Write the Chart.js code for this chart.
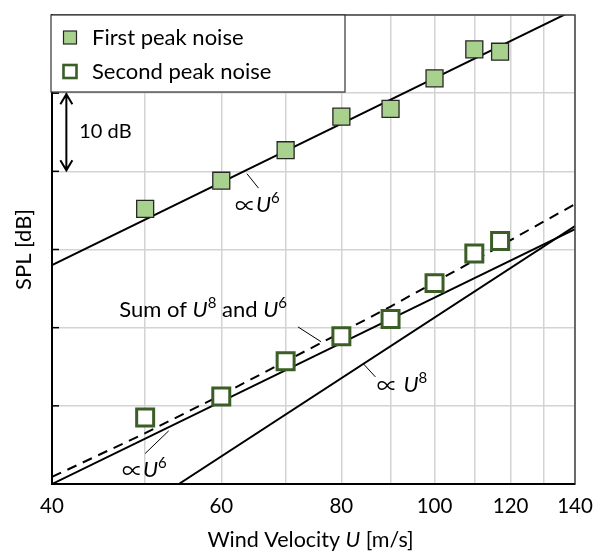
<!DOCTYPE html>
<html>
<head>
<meta charset="utf-8">
<script src="https://cdn.jsdelivr.net/npm/chart.js@4.4.1/dist/chart.umd.min.js"></script>
<style>
  html, body { margin: 0; padding: 0; background: #fff; }
  canvas { display: block; }
</style>
</head>
<body>
<canvas id="chartSPL" width="603" height="559"></canvas>
<script>
// measured peaks, wind velocity [m/s] vs SPL [dB] (10 dB per grid step)
const firstU = [50, 60, 70, 80, 90, 100, 110, 117];
const firstSPL = [35.2, 38.8, 42.7, 47.0, 48.0, 51.9, 55.6, 55.3];
const secondU = [50, 60, 70, 80, 90, 100, 110, 117];
const secondSPL = [8.5, 11.2, 15.7, 18.9, 21.1, 25.7, 29.5, 31.1];

// power-law guide lines
const fitU = [40, 140];
const upperU6 = [28.0, 60.7];
const lowerU6 = [0, 32.6];
const u8U = [54.2, 140];
const u8SPL = [0, 33.0];
const sumU = [40, 50, 60, 70, 80, 90, 100, 110, 120, 130, 140];
const sumSPL = [0.9, 6.5, 11.4, 15.7, 19.4, 22.7, 25.8, 28.6, 31.2, 33.6, 35.8];

// axis
const gridU = [40, 50, 60, 70, 80, 90, 100, 110, 120, 130, 140];
const tickU = [40, 60, 80, 100, 120, 140];

const FONT = "Lato";
const pts = (xs, ys) => xs.map((x, i) => ({ x: x, y: ys[i] }));

// labels placed in data units: [U, dB], parts: [text, style] n=normal i=italic s=superscript p=symbol
const notes = [
  { at: [62.0, 35.7], parts: [["\u221D", "p"], ["U", "i"], ["6", "s"]], lead: [[63.8, 39.7], [65.6, 37.85]] },
  { at: [47.0, 22.3], parts: [["Sum of ", "n"], ["U", "i"], ["8", "s"], [" and ", "n"], ["U", "i"], ["6", "s"]], lead: [[72.1, 20.1], [76.2, 18.2]] },
  { at: [47.3, 1.8], parts: [["\u221D", "p"], ["U", "i"], ["6", "s"]], lead: [[50.0, 3.9], [52.9, 6.8]] },
  { at: [87.1, 12.7], parts: [["\u221D", "p"], [" ", "n"], ["U", "i"], ["8", "s"]], lead: [[84.3, 15.4], [86.8, 13.7]] }
];

function partFont(s, size) {
  if (s === "s") return Math.round(size * 0.68) + "px " + FONT;
  if (s === "p") return (size - 1) + "px 'Noto Sans CJK JP'";
  return (s === "i" ? "italic " : "") + size + "px " + FONT;
}

function drawRich(ctx, parts, x, y, size) {
  ctx.textBaseline = "middle";
  ctx.textAlign = "left";
  let cx = x;
  parts.forEach(([t, s]) => {
    ctx.font = partFont(s, size);
    ctx.fillText(t, cx, s === "s" ? y - size * 0.3 : y);
    cx += ctx.measureText(t).width;
  });
  return cx - x;
}

function richWidth(ctx, parts, size) {
  let w = 0;
  parts.forEach(([t, s]) => {
    ctx.font = partFont(s, size);
    w += ctx.measureText(t).width;
  });
  return w;
}

const overlay = {
  id: "overlay",
  afterDatasetsDraw(chart) {
    const { ctx, chartArea: a, scales: { x, y } } = chart;
    ctx.save();
    // frame top/right
    ctx.strokeStyle = "#444";
    ctx.lineWidth = 1.5;
    ctx.beginPath();
    ctx.moveTo(a.left, a.top);
    ctx.lineTo(a.right, a.top);
    ctx.lineTo(a.right, a.bottom);
    ctx.stroke();
    // inside tick marks on the SPL axis
    ctx.strokeStyle = "#000";
    ctx.lineWidth = 1.5;
    [10, 20, 30, 40, 50].forEach(v => {
      const py = y.getPixelForValue(v);
      ctx.beginPath();
      ctx.moveTo(a.left, py);
      ctx.lineTo(a.left + 7, py);
      ctx.stroke();
    });

    // 10 dB arrow
    const ax = x.getPixelForValue(41.4);
    const y1 = y.getPixelForValue(50), y2 = y.getPixelForValue(40);
    ctx.lineWidth = 2;
    ctx.beginPath();
    ctx.moveTo(ax, y1); ctx.lineTo(ax, y2);
    ctx.moveTo(ax - 6, y1 + 11); ctx.lineTo(ax, y1 + 1); ctx.lineTo(ax + 6, y1 + 11);
    ctx.moveTo(ax - 6, y2 - 11); ctx.lineTo(ax, y2 - 1); ctx.lineTo(ax + 6, y2 - 11);
    ctx.stroke();
    ctx.fillStyle = "#000";
    drawRich(ctx, [["10 dB", "n"]], x.getPixelForValue(42.7), y.getPixelForValue(45.1), 20);

    // curve labels with leader lines
    notes.forEach(n => {
      drawRich(ctx, n.parts, x.getPixelForValue(n.at[0]), y.getPixelForValue(n.at[1]), 22);
      ctx.lineWidth = 1;
      ctx.beginPath();
      ctx.moveTo(x.getPixelForValue(n.lead[0][0]), y.getPixelForValue(n.lead[0][1]));
      ctx.lineTo(x.getPixelForValue(n.lead[1][0]), y.getPixelForValue(n.lead[1][1]));
      ctx.stroke();
    });
    ctx.restore();
  },
  afterDraw(chart) {
    const { ctx, chartArea: a } = chart;
    ctx.save();
    // legend box in the top-left corner
    const bx = a.left - 1, by = a.top, bw = 294, bh = 77;
    ctx.fillStyle = "#fff";
    ctx.fillRect(bx, by, bw, bh);
    ctx.strokeStyle = "#333";
    ctx.lineWidth = 1.2;
    ctx.strokeRect(bx, by, bw, bh);
    chart.data.datasets.slice(0, 2).forEach((ds, i) => {
      const cy = by + 22.5 + i * 34;
      const s = 13;
      ctx.fillStyle = ds.backgroundColor;
      ctx.fillRect(bx + 19 - s / 2, cy - s / 2, s, s);
      ctx.strokeStyle = ds.borderColor;
      ctx.lineWidth = i === 0 ? 1.2 : 2.6;
      ctx.strokeRect(bx + 19 - s / 2, cy - s / 2, s, s);
      ctx.fillStyle = "#000";
      drawRich(ctx, [[ds.label, "n"]], bx + 41, cy, 22);
    });

    // axis titles
    ctx.fillStyle = "#000";
    const xt = [["Wind Velocity ", "n"], ["U", "i"], [" [m/s]", "n"]];
    const w = richWidth(ctx, xt, 21.5);
    drawRich(ctx, xt, (a.left + a.right) / 2 - w / 2 - 3, 540, 21.5);
    ctx.translate(24, (a.top + a.bottom) / 2);
    ctx.rotate(-Math.PI / 2);
    ctx.font = "22px " + FONT;
    ctx.textAlign = "center";
    ctx.textBaseline = "middle";
    ctx.fillText("SPL [dB]", 0, 0);
    ctx.restore();
  }
};

const lineStyle = { type: "line", borderColor: "#000", borderWidth: 2, pointRadius: 0, fill: false, tension: 0, clip: 0 };

new Chart(document.getElementById("chartSPL"), {
  type: "scatter",
  data: {
    datasets: [
      { label: "First peak noise", data: pts(firstU, firstSPL), pointStyle: "rect", pointRadius: 12, pointHoverRadius: 12,
        backgroundColor: "#a9d18e", borderColor: "#262626", borderWidth: 1.3 },
      { label: "Second peak noise", data: pts(secondU, secondSPL), pointStyle: "rect", pointRadius: 12, pointHoverRadius: 12,
        backgroundColor: "#ffffff", borderColor: "#3b5d26", borderWidth: 3 },
      { ...lineStyle, label: "U6 (first)", data: pts(fitU, upperU6) },
      { ...lineStyle, label: "U6 (second)", data: pts(fitU, lowerU6) },
      { ...lineStyle, label: "U8", data: pts(u8U, u8SPL) },
      { ...lineStyle, label: "U8 + U6", data: pts(sumU, sumSPL), borderDash: [10, 7] }
    ]
  },
  options: {
    responsive: false,
    devicePixelRatio: 1,
    animation: false,
    layout: { padding: { top: 7, right: 28, left: 0, bottom: 0 } },
    plugins: { legend: { display: false }, tooltip: { enabled: false } },
    scales: {
      x: {
        type: "logarithmic",
        min: 40, max: 140,
        afterBuildTicks: s => { s.ticks = gridU.map(v => ({ value: v })); },
        afterFit: s => { s.height = 75; },
        ticks: {
          autoSkip: false, maxRotation: 0, padding: 10, color: "#000",
          font: { family: FONT, size: 20.5 },
          callback: v => tickU.includes(v) ? String(v) : ""
        },
        grid: { color: "#d3d3d3", lineWidth: 1.5, drawTicks: false },
        border: { color: "#000", width: 2 }
      },
      y: {
        min: 0, max: 60,
        afterFit: s => { s.width = 52; },
        ticks: { stepSize: 10, display: false },
        grid: { color: "#d3d3d3", lineWidth: 1.5, drawTicks: false },
        border: { color: "#000", width: 2 }
      }
    }
  },
  plugins: [overlay]
});
</script>
</body>
</html>
